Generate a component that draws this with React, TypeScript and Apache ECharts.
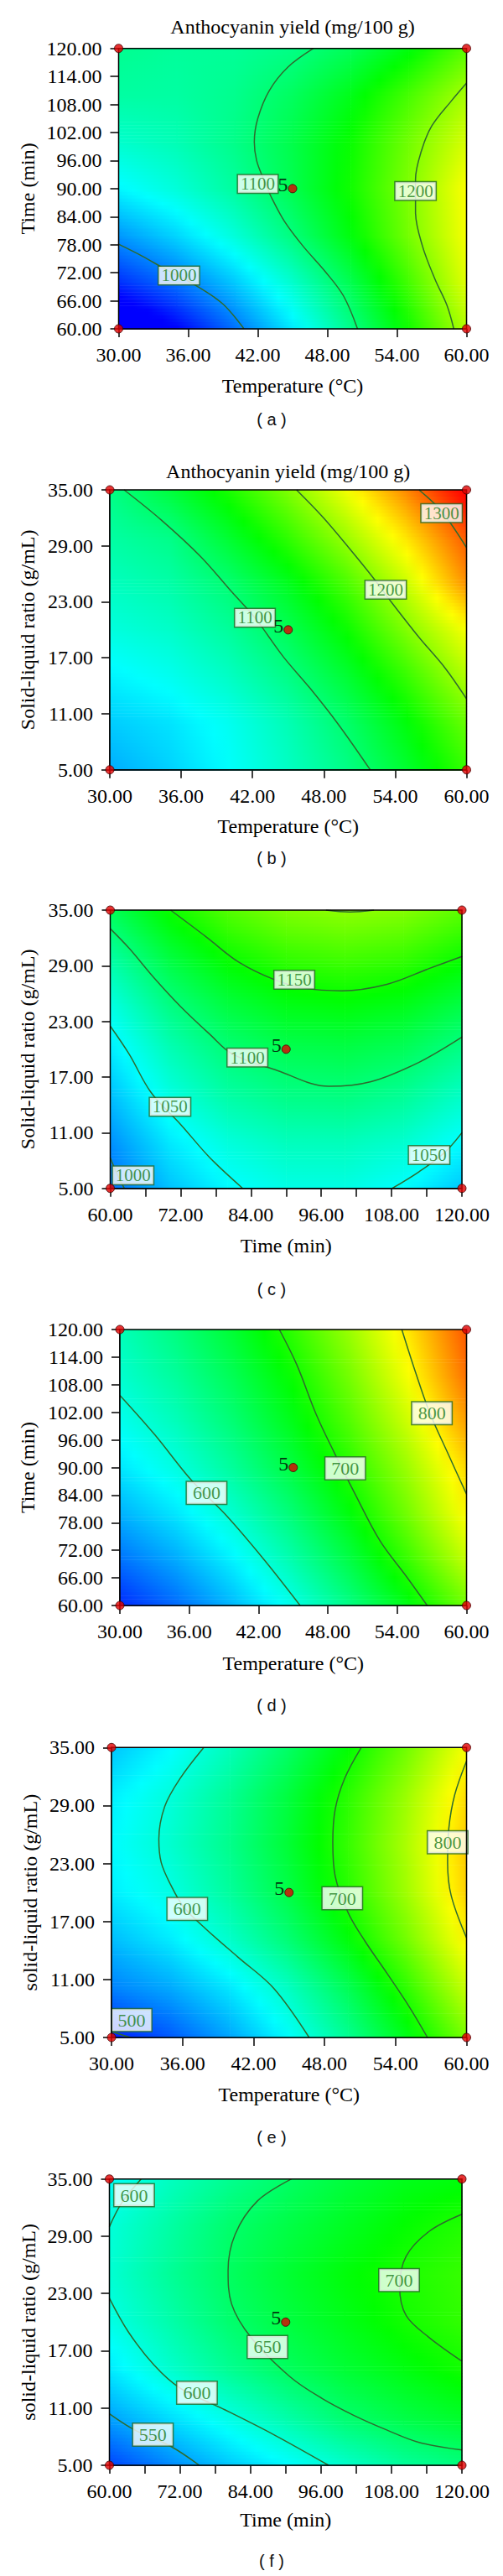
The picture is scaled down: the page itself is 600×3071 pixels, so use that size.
import React, { useEffect, useRef } from "react";
import * as echarts from "echarts";

const SERIF = "'Liberation Serif', 'Times New Roman', serif";
const SANS = "'Liberation Sans', Arial, sans-serif";

// ---------- axis ticks ----------
const temperatureTicks = [30, 36, 42, 48, 54, 60];
const timeTicks = [60, 66, 72, 78, 84, 90, 96, 102, 108, 114, 120];
const timeLabelTicks = [60, 72, 84, 96, 108, 120];
const ratioTicks = [5, 11, 17, 23, 29, 35];

// ---------- grid nodes of the response surfaces ----------
const temperatureNodes = [30, 35, 40, 45, 50, 55, 60];
const timeNodes = [60, 70, 80, 90, 100, 110, 120];
const ratioNodes = [5, 10, 15, 20, 25, 30, 35];

// colour ranges (blue -> red) of the two responses
const yield1Range = [950, 1340];
const yield2Range = [480, 900];

// ---------- surface values (rows = y nodes, bottom to top) ----------
const surfaceA = [
  [912, 950, 993, 1040, 1093, 1151, 1214],
  [968, 994, 1027, 1067, 1115, 1171, 1232],
  [1008, 1032, 1062, 1098, 1141, 1190, 1240],
  [1045, 1062, 1085, 1115, 1151, 1194, 1242],
  [1067, 1076, 1093, 1117, 1148, 1188, 1228],
  [1083, 1083, 1091, 1109, 1136, 1172, 1210],
  [1090, 1086, 1087, 1094, 1112, 1140, 1179],
];
const surfaceB = [
  [1016, 1030, 1048, 1070, 1094, 1127, 1165],
  [1028, 1037, 1053, 1076, 1105, 1142, 1185],
  [1043, 1053, 1070, 1094, 1126, 1166, 1213],
  [1060, 1068, 1086, 1113, 1149, 1195, 1240],
  [1072, 1081, 1102, 1134, 1174, 1223, 1285],
  [1083, 1093, 1127, 1164, 1206, 1254, 1307],
  [1094, 1122, 1155, 1194, 1239, 1289, 1345],
];
const surfaceC = [
  [991, 1024, 1046, 1057, 1058, 1048, 1026],
  [1005, 1039, 1061, 1073, 1074, 1066, 1047],
  [1023, 1058, 1082, 1094, 1097, 1088, 1069],
  [1040, 1075, 1100, 1114, 1118, 1111, 1093],
  [1059, 1096, 1122, 1138, 1143, 1137, 1120],
  [1083, 1121, 1149, 1165, 1171, 1166, 1150],
  [1111, 1149, 1177, 1194, 1200, 1196, 1181],
];
const surfaceD = [
  [497, 525, 558, 595, 637, 684, 736],
  [527, 551, 582, 620, 663, 714, 771],
  [553, 576, 606, 643, 687, 739, 797],
  [575, 598, 628, 665, 707, 756, 812],
  [592, 614, 644, 681, 725, 776, 835],
  [605, 627, 657, 694, 740, 793, 854],
  [614, 639, 671, 710, 755, 806, 865],
];
const surfaceE = [
  [493, 517, 548, 586, 630, 681, 740],
  [533, 549, 575, 610, 655, 709, 772],
  [557, 577, 606, 642, 686, 738, 798],
  [578, 596, 626, 662, 706, 757, 815],
  [584, 605, 633, 669, 712, 762, 818],
  [578, 600, 629, 665, 707, 755, 810],
  [561, 584, 614, 649, 690, 737, 792],
];
const surfaceF = [
  [508, 536, 562, 584, 606, 626, 638],
  [547, 571, 595, 620, 645, 661, 673],
  [576, 604, 629, 651, 668, 683, 697],
  [595, 619, 644, 663, 680, 697, 710],
  [603, 627, 650, 669, 686, 701, 712],
  [600, 622, 645, 661, 676, 691, 704],
  [587, 610, 630, 648, 665, 679, 685],
];

// ---------- contour lines ----------
const contoursA = [
  { level: 1000, points: [[30, 78.1], [32, 75.6], [34, 72.8], [36.5, 69.5], [39, 65.3], [40.8, 60]] },
  { level: 1100, points: [[46.8, 120], [44.6, 116], [43.0, 111], [42.0, 105], [41.7, 100], [41.9, 96], [42.5, 92], [43.2, 88], [44.3, 83], [45.9, 77.7], [47.8, 72.3], [49.4, 67], [50.6, 60]] },
  { level: 1200, points: [[60, 112.6], [58.7, 108.8], [57.0, 103.4], [56.1, 98], [55.6, 92], [55.6, 85], [56.2, 77.7], [57.3, 70.5], [58.3, 65.1], [58.9, 60]] },
];
const contourLabelsA = [[35.2, 71.4, 1000], [42.0, 91.0, 1100], [55.6, 89.5, 1200]];

const contoursB = [
  { level: 1100, points: [[31.2, 35], [34.3, 31.8], [37.6, 27.9], [40.3, 24.0], [42.2, 21.3], [44.6, 17.1], [46.8, 13.8], [49.2, 9.9], [51.9, 5]] },
  { level: 1200, points: [[45.7, 35], [47.9, 32.1], [50.1, 28.8], [52.2, 25.5], [53.6, 23.1], [56.0, 19.2], [58.2, 15.9], [60, 12.6]] },
  { level: 1300, points: [[56.0, 35], [57.9, 32.7], [60, 28.8]] },
];
const contourLabelsB = [[42.2, 21.3, 1100], [53.2, 24.3, 1200], [57.9, 32.5, 1300]];

const contoursC = [
  { level: 1200, points: [[96.8, 35], [100.9, 34.8], [105, 35]] },
  { level: 1150, points: [[70.3, 35], [76.4, 32.1], [81.9, 29.4], [88.0, 27.5], [93, 26.6], [99.5, 26.3], [107.2, 27.0], [114.4, 28.7], [120, 30.0]] },
  { level: 1100, points: [[60, 33.0], [63.2, 30.9], [67.6, 27.6], [72.0, 24.6], [77.0, 21.6], [80.8, 19.5], [88.5, 17.7], [97.3, 16.0], [104.5, 16.5], [112.7, 18.6], [120, 21.3]] },
  { level: 1050, points: [[60, 22.5], [63.2, 19.5], [67.0, 15.3], [72.0, 11.9], [77.0, 8.3], [82.6, 5]] },
  { level: 1050, points: [[108.1, 5], [112.7, 6.8], [117.1, 8.9], [120, 11.0]] },
  { level: 1000, points: [[60, 8.3], [61.2, 6.5], [62.4, 5]] },
];
const contourLabelsC = [[91.4, 27.5, 1150], [83.4, 19.1, 1100], [70.2, 13.8, 1050], [114.4, 8.6, 1050], [63.9, 6.4, 1000]];

const contoursD = [
  { level: 600, points: [[30, 105.7], [33.0, 97.2], [36.2, 87.2], [39.2, 79.6], [42.5, 69.9], [45.6, 60]] },
  { level: 700, points: [[43.8, 120], [45.3, 112.4], [47.0, 101.5], [48.6, 93.0], [50.3, 84.5], [52.5, 74.1], [54.8, 66.3], [56.6, 60]] },
  { level: 800, points: [[54.4, 120], [55.6, 110.6], [56.8, 102], [58.4, 93], [60, 84.2]] },
];
const contourLabelsD = [[37.5, 84.5, 600], [49.5, 89.8, 700], [57.0, 101.8, 800]];

const contoursE = [
  { level: 500, points: [[30, 5.6], [31.6, 5]] },
  { level: 600, points: [[37.8, 35], [35.8, 31.8], [34.5, 28.9], [34.0, 25.5], [34.2, 23.1], [35.0, 20.8], [36.1, 18.5], [38.0, 16.2], [40.7, 13.3], [43.7, 10.1], [46.7, 5]] },
  { level: 700, points: [[51.1, 35], [49.7, 31.8], [48.9, 28.6], [48.7, 25.2], [48.9, 21.7], [50.0, 17.9], [51.4, 15.0], [53.3, 11.6], [55.2, 8.1], [56.7, 5]] },
  { level: 800, points: [[60, 33.6], [59.0, 30.1], [58.5, 26.6], [58.4, 23.1], [58.7, 19.7], [60, 15.3]] },
];
const contourLabelsE = [[31.7, 6.8, 500], [36.4, 18.3, 600], [49.5, 19.4, 700], [58.4, 25.2, 800]];

const contoursF = [
  { level: 600, points: [[60, 30.0], [62.1, 32.5], [65.4, 35]] },
  { level: 600, points: [[60, 22.5], [63.2, 19.0], [67.6, 15.5], [72.0, 13.1], [79.7, 10.8], [88.0, 8.2], [97.3, 5]] },
  { level: 550, points: [[60, 10.4], [64.3, 8.7], [70.4, 7.0], [75.3, 5]] },
  { level: 650, points: [[91.0, 35], [85.2, 32.7], [81.4, 29.2], [80.2, 25.4], [80.8, 21.9], [84.1, 18.4], [90.7, 14.3], [96.2, 12.0], [101.7, 10.2], [107.2, 8.7], [112.7, 7.4], [120, 6.6]] },
  { level: 700, points: [[120, 31.3], [114.4, 29.5], [110.5, 26.9], [109.4, 23.7], [110.5, 20.7], [114.4, 18.4], [120, 15.9]] },
];
const contourLabelsF = [[64.2, 33.3, 600], [74.9, 12.6, 600], [67.4, 8.2, 550], [86.9, 17.4, 650], [109.3, 24.4, 700]];

// ---------- design points ----------
const designTempTime = [[30, 60], [30, 120], [60, 60], [60, 120], [45, 90]];
const designTempRatio = [[30, 5], [30, 35], [60, 5], [60, 35], [45, 20]];
const designTimeRatio = [[60, 5], [60, 35], [120, 5], [120, 35], [90, 20]];
const centerReplicates = "5";

const titleText = "Anthocyanin yield (mg/100 g)";
const tempName = "Temperature (°C)";
const timeName = "Time (min)";
const ratioNameUpper = "Solid-liquid ratio (g/mL)";
const ratioNameLower = "solid-liquid ratio (g/mL)";

// ---------- colour map ----------
const RAMP = [
  [0, 0, 255],
  [0, 255, 255],
  [0, 255, 0],
  [255, 255, 0],
  [255, 0, 0],
];
function colorOf(v: number, range: number[]) {
  let t = (v - range[0]) / (range[1] - range[0]);
  t = Math.max(0, Math.min(1, t));
  const p = t * 4;
  const k = Math.min(3, Math.floor(p));
  const f = p - k;
  const a = RAMP[k];
  const b = RAMP[k + 1];
  const r = Math.round(a[0] + (b[0] - a[0]) * f);
  const g = Math.round(a[1] + (b[1] - a[1]) * f);
  const bl = Math.round(a[2] + (b[2] - a[2]) * f);
  return `rgb(${r},${g},${bl})`;
}

type Panel = {
  grid: { left: number; top: number; width: number; height: number };
  title?: { x: number; y: number };
  caption: string;
  captionY: number;
  x: { min: number; max: number; ticks: number[]; labels: number[]; name: string; gap: number };
  y: { min: number; max: number; ticks: number[]; labels: number[]; name: string; gap: number };
  nodesX: number[];
  nodesY: number[];
  values: number[][];
  range: number[];
  contours: { level: number; points: number[][] }[];
  labels: number[][];
  design: number[][];
  bigLabels: boolean;
};

const panels: Panel[] = [
  {
    grid: { left: 141.5, top: 57.7, width: 415, height: 334.3 },
    title: { x: 349, y: 32 },
    caption: "( a )",
    captionY: 500,
    x: { min: 30, max: 60, ticks: temperatureTicks, labels: temperatureTicks, name: tempName, gap: 56 },
    y: { min: 60, max: 120, ticks: timeTicks, labels: timeTicks, name: timeName, gap: 96 },
    nodesX: temperatureNodes, nodesY: timeNodes, values: surfaceA, range: yield1Range,
    contours: contoursA, labels: contourLabelsA, design: designTempTime, bigLabels: false,
  },
  {
    grid: { left: 131, top: 584, width: 425.5, height: 333.7 },
    title: { x: 343.7, y: 561.7 },
    caption: "( b )",
    captionY: 1023,
    x: { min: 30, max: 60, ticks: temperatureTicks, labels: temperatureTicks, name: tempName, gap: 55 },
    y: { min: 5, max: 35, ticks: ratioTicks, labels: ratioTicks, name: ratioNameUpper, gap: 86 },
    nodesX: temperatureNodes, nodesY: ratioNodes, values: surfaceB, range: yield1Range,
    contours: contoursB, labels: contourLabelsB, design: designTempRatio, bigLabels: false,
  },
  {
    grid: { left: 131.5, top: 1085, width: 419.5, height: 331.7 },
    caption: "( c )",
    captionY: 1537,
    x: { min: 60, max: 120, ticks: timeTicks, labels: timeLabelTicks, name: timeName, gap: 56 },
    y: { min: 5, max: 35, ticks: ratioTicks, labels: ratioTicks, name: ratioNameUpper, gap: 86.5 },
    nodesX: timeNodes, nodesY: ratioNodes, values: surfaceC, range: yield1Range,
    contours: contoursC, labels: contourLabelsC, design: designTimeRatio, bigLabels: false,
  },
  {
    grid: { left: 143, top: 1585, width: 413.5, height: 329 },
    caption: "( d )",
    captionY: 2033,
    x: { min: 30, max: 60, ticks: temperatureTicks, labels: temperatureTicks, name: tempName, gap: 56.5 },
    y: { min: 60, max: 120, ticks: timeTicks, labels: timeTicks, name: timeName, gap: 98 },
    nodesX: temperatureNodes, nodesY: timeNodes, values: surfaceD, range: yield2Range,
    contours: contoursD, labels: contourLabelsD, design: designTempTime, bigLabels: true,
  },
  {
    grid: { left: 133, top: 2083.3, width: 423.5, height: 345.7 },
    caption: "( e )",
    captionY: 2548,
    x: { min: 30, max: 60, ticks: temperatureTicks, labels: temperatureTicks, name: tempName, gap: 55.5 },
    y: { min: 5, max: 35, ticks: ratioTicks, labels: ratioTicks, name: ratioNameLower, gap: 85.5 },
    nodesX: temperatureNodes, nodesY: ratioNodes, values: surfaceE, range: yield2Range,
    contours: contoursE, labels: contourLabelsE, design: designTempRatio, bigLabels: true,
  },
  {
    grid: { left: 130.5, top: 2597.7, width: 420.5, height: 341.3 },
    caption: "( f )",
    captionY: 3053,
    x: { min: 60, max: 120, ticks: timeTicks, labels: timeLabelTicks, name: timeName, gap: 53 },
    y: { min: 5, max: 35, ticks: ratioTicks, labels: ratioTicks, name: ratioNameLower, gap: 83 },
    nodesX: timeNodes, nodesY: ratioNodes, values: surfaceF, range: yield2Range,
    contours: contoursF, labels: contourLabelsF, design: designTimeRatio, bigLabels: true,
  },
];

function makeRenderItem(nodesX: number[], nodesY: number[], values: number[][], range: number[]) {
  const nx = nodesX.length;
  const ny = nodesY.length;
  return (params: any, api: any) => {
    const idx = params.dataIndex;
    const i = idx % nx;
    const j = Math.floor(idx / nx);
    if (i >= nx - 1 || j >= ny - 1) return { type: "group", children: [] };
    const p0 = api.coord([nodesX[i], nodesY[j]]);
    const p1 = api.coord([nodesX[i + 1], nodesY[j + 1]]);
    const x0 = p0[0];
    const x1 = p1[0];
    const yb = p0[1];
    const yt = p1[1];
    const v00 = values[j][i];
    const v10 = values[j][i + 1];
    const v01 = values[j + 1][i];
    const v11 = values[j + 1][i + 1];
    const n = Math.max(1, Math.round((yb - yt) / 4));
    const h = (yb - yt) / n;
    const children: any[] = [];
    for (let k = 0; k < n; k++) {
      const t = 1 - (k + 0.5) / n;
      const vL = v00 + (v01 - v00) * t;
      const vR = v10 + (v11 - v10) * t;
      const stops: any[] = [];
      for (let m = 0; m <= 4; m++) {
        const f = m / 4;
        stops.push({ offset: f, color: colorOf(vL + (vR - vL) * f, range) });
      }
      children.push({
        type: "rect",
        shape: { x: x0, y: yt + k * h, width: x1 - x0 + 0.6, height: h + 0.6 },
        style: { fill: new echarts.graphic.LinearGradient(0, 0, 1, 0, stops) },
        silent: true,
      });
    }
    return { type: "group", children };
  };
}

function buildOption() {
  const grids: any[] = [];
  const xAxes: any[] = [];
  const yAxes: any[] = [];
  const series: any[] = [];
  const graphics: any[] = [];

  const axisText = { fontFamily: SERIF, fontSize: 24, color: "#000" };

  panels.forEach((p, pi) => {
    grids.push({
      ...p.grid,
      show: true,
      backgroundColor: "transparent",
      borderColor: "#000",
      borderWidth: 1.5,
      z: 10,
      containLabel: false,
    });
    xAxes.push({
      gridIndex: pi,
      type: "value",
      min: p.x.min,
      max: p.x.max,
      position: "bottom",
      name: p.x.name,
      nameLocation: "middle",
      nameGap: p.x.gap,
      nameTextStyle: axisText,
      axisLine: { show: true, onZero: false, lineStyle: { color: "#000", width: 1.5 } },
      axisTick: { show: true, inside: false, length: 10, customValues: p.x.ticks, lineStyle: { color: "#000", width: 1.5 } },
      axisLabel: { show: true, customValues: p.x.labels, margin: 19, formatter: (v: number) => Number(v).toFixed(2), ...axisText },
      splitLine: { show: false },
    });
    yAxes.push({
      gridIndex: pi,
      type: "value",
      min: p.y.min,
      max: p.y.max,
      position: "left",
      name: p.y.name,
      nameLocation: "middle",
      nameGap: p.y.gap,
      nameTextStyle: axisText,
      axisLine: { show: true, onZero: false, lineStyle: { color: "#000", width: 1.5 } },
      axisTick: { show: true, inside: false, length: 10, customValues: p.y.ticks, lineStyle: { color: "#000", width: 1.5 } },
      axisLabel: { show: true, customValues: p.y.labels, margin: 20, formatter: (v: number) => Number(v).toFixed(2), ...axisText },
      splitLine: { show: false },
    });

    // surface
    const nodeData: number[][] = [];
    p.nodesY.forEach((yv, j) => {
      p.nodesX.forEach((xv, i) => {
        nodeData.push([xv, yv, p.values[j][i]]);
      });
    });
    series.push({
      type: "custom",
      xAxisIndex: pi,
      yAxisIndex: pi,
      data: nodeData,
      encode: { x: 0, y: 1 },
      renderItem: makeRenderItem(p.nodesX, p.nodesY, p.values, p.range),
      silent: true,
      z: 1,
    });

    // contour lines
    p.contours.forEach((c) => {
      series.push({
        type: "line",
        name: `contour ${c.level}`,
        xAxisIndex: pi,
        yAxisIndex: pi,
        data: c.points,
        smooth: 0.35,
        symbol: "none",
        lineStyle: { color: "#2e6b2e", width: 1.5 },
        silent: true,
        z: 3,
      });
    });

    // contour labels
    series.push({
      type: "scatter",
      xAxisIndex: pi,
      yAxisIndex: pi,
      data: p.labels.map((l) => ({ value: l })),
      symbol: "circle",
      symbolSize: 0,
      silent: true,
      clip: false,
      z: 5,
      label: {
        show: true,
        position: "inside",
        formatter: (prm: any) => String(prm.value[2]),
        color: "#1b7a1b",
        fontFamily: SERIF,
        fontSize: p.bigLabels ? 22 : 21,
        backgroundColor: "#ffffff",
        borderColor: "#2a6a2a",
        borderWidth: 1.5,
        padding: p.bigLabels ? [3, 7, 2, 7] : [1, 3, 0, 3],
        lineHeight: p.bigLabels ? 21 : 20,
      },
    });

    // design points
    series.push({
      type: "scatter",
      xAxisIndex: pi,
      yAxisIndex: pi,
      clip: false,
      silent: true,
      symbol: "circle",
      symbolSize: 10,
      z: 20,
      itemStyle: { color: "#e00000", borderColor: "#400000", borderWidth: 1 },
      data: p.design.map((d, k) =>
        k === p.design.length - 1
          ? {
              value: d,
              label: {
                show: true,
                formatter: centerReplicates,
                position: "left",
                distance: 0,
                offset: [0, -5],
                color: "#000",
                fontFamily: SERIF,
                fontSize: 24,
              },
            }
          : { value: d }
      ),
    });

    if (p.title) {
      graphics.push({
        type: "text",
        x: p.title.x,
        y: p.title.y,
        style: {
          text: titleText,
          fill: "#000",
          fontFamily: SERIF,
          fontSize: 24,
          align: "center",
          verticalAlign: "middle",
        },
      });
    }
    graphics.push({
      type: "text",
      x: 324,
      y: p.captionY,
      style: {
        text: p.caption,
        fill: "#111",
        fontFamily: SANS,
        fontSize: 20,
        align: "center",
        verticalAlign: "middle",
      },
    });
  });

  return {
    animation: false,
    backgroundColor: "#ffffff",
    grid: grids,
    xAxis: xAxes,
    yAxis: yAxes,
    series,
    graphic: graphics,
  };
}

export default function App() {
  const ref = useRef<HTMLDivElement>(null);
  useEffect(() => {
    if (!ref.current) return;
    const chart = echarts.init(ref.current, undefined, { renderer: "svg" });
    chart.setOption(buildOption() as any);
    return () => {
      chart.dispose();
    };
  }, []);
  return (
    <div
      ref={ref}
      style={{ position: "absolute", left: 0, top: 0, width: 600, height: 3071, background: "#fff" }}
    />
  );
}
